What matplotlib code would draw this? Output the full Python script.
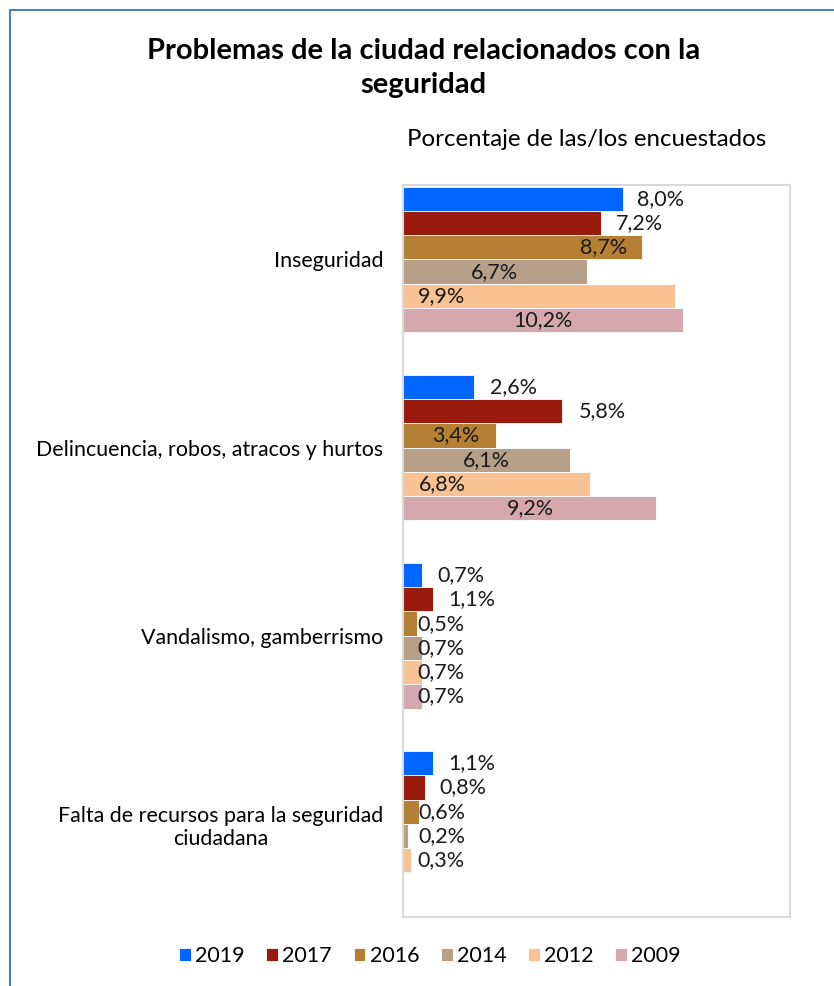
import numpy as np
import matplotlib.pyplot as plt
from matplotlib.lines import Line2D

plt.rcParams['font.family'] = ['Lato', 'DejaVu Sans']

# data
categories = [
    'Inseguridad',
    'Delincuencia, robos, atracos y hurtos',
    'Vandalismo, gamberrismo',
    'Falta de recursos para la seguridad\nciudadana',
]
years = ['2019', '2017', '2016', '2014', '2012', '2009']
values = {
    '2019': [8.0, 2.6, 0.7, 1.1],
    '2017': [7.2, 5.8, 1.1, 0.8],
    '2016': [8.7, 3.4, 0.5, 0.6],
    '2014': [6.7, 6.1, 0.7, 0.2],
    '2012': [9.9, 6.8, 0.7, 0.3],
    '2009': [10.2, 9.2, 0.7, np.nan],
}
colors = ['#0066FF', '#991B0E', '#B58033', '#B6A08A', '#F9C292', '#D5A8B0']

# where each value label sits (x centre, in %), as laid out in the original
label_x = {
    '2019': [9.40, 4.03, 2.11, 2.50],
    '2017': [8.63, 7.25, 2.50, 2.19],
    '2016': [7.29, 1.93, 1.40, 1.40],
    '2014': [3.33, 3.02, 1.40, 1.40],
    '2012': [1.42, 1.42, 1.40, 1.40],
    '2009': [5.10, 4.63, 1.40, 1.40],
}

fig = plt.figure(figsize=(8.34, 9.86), dpi=100)
ax = fig.add_axes([403 / 834, 69 / 986, 387 / 834, 732 / 986])

y = np.arange(len(categories))
h = 0.129
for j, yr in enumerate(years):
    ypos = y + (j - 2.5) * h
    vals = np.array(values[yr])
    ax.barh(ypos, vals, height=h, color=colors[j], edgecolor='white',
            linewidth=0.6, label=yr)
    for k, v in enumerate(vals):
        if np.isnan(v):
            continue
        ax.text(label_x[yr][k], ypos[k], f'{v:.1f}%'.replace('.', ','),
                ha='center', va='center', fontsize=15.5, color='#1a1a1a')

ax.set_xlim(0, 14.1)
ax.set_ylim(3 + 0.495, -0.396)
ax.set_xticks([])
ax.set_yticks(y)
ax.set_yticklabels(categories, fontsize=15.4, multialignment='center')
ax.tick_params(axis='y', length=0, pad=14.4)
for s in ax.spines.values():
    s.set_color('#D9D9D9')
    s.set_linewidth(1.5)

fig.text(0.508, 1 - 68 / 986, 'Problemas de la ciudad relacionados con la\nseguridad',
         ha='center', va='center', fontsize=21, fontweight='bold',
         linespacing=1.4)
fig.text(587 / 834, 1 - 140 / 986, 'Porcentaje de las/los encuestados',
         ha='center', va='center', fontsize=17.3)

ax.legend(loc='center', bbox_to_anchor=(430 / 834, 1 - 956 / 986),
          bbox_transform=fig.transFigure, ncol=6, frameon=False,
          fontsize=15.5, handlelength=0.55, handleheight=0.55,
          handletextpad=0.2, columnspacing=1.0)

# outer chart border (only left and top visible)
fig.add_artist(Line2D([10 / 834, 10 / 834, 1.0], [0.0, 1 - 10 / 986, 1 - 10 / 986],
                      transform=fig.transFigure, color='#4A7EC8', linewidth=1.5))

plt.savefig('out.png', dpi=100)
